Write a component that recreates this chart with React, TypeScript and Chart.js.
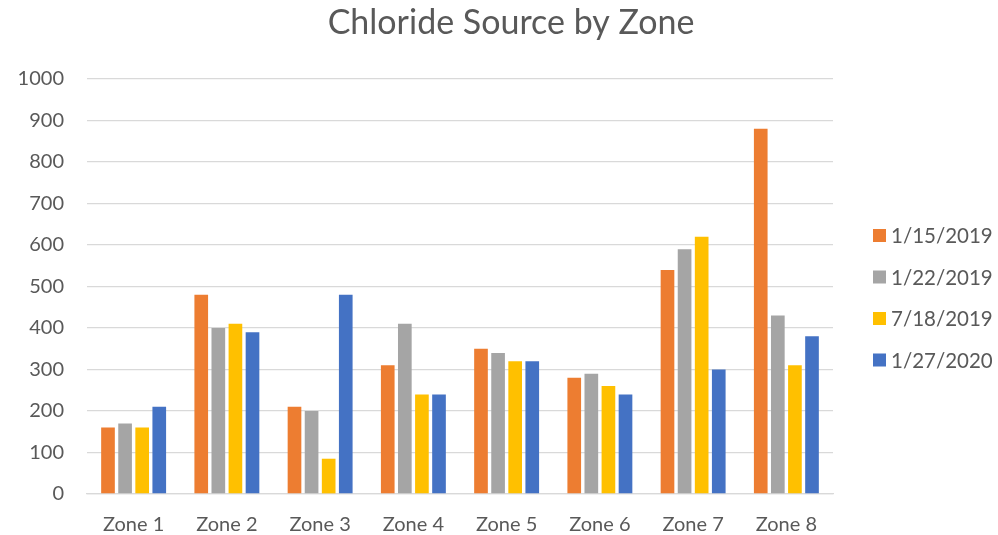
import React, { useEffect, useRef } from "react";
import { Chart, registerables } from "chart.js";

Chart.register(...registerables);

const titleText = "Chloride Source by Zone";
const categories = ["Zone 1", "Zone 2", "Zone 3", "Zone 4", "Zone 5", "Zone 6", "Zone 7", "Zone 8"];
const seriesLabels = ["1/15/2019", "1/22/2019", "7/18/2019", "1/27/2020"];
const seriesColors = ["#ED7D31", "#A5A5A5", "#FFC000", "#4472C4"];
const jan2019a = [160, 480, 210, 310, 350, 280, 540, 880];
const jan2019b = [170, 400, 200, 410, 340, 290, 590, 430];
const jul2019 = [160, 410, 85, 240, 320, 260, 620, 310];
const jan2020 = [210, 390, 480, 240, 320, 240, 300, 380];
const seriesValues = [jan2019a, jan2019b, jul2019, jan2020];
const yTicks = [0, 100, 200, 300, 400, 500, 600, 700, 800, 900, 1000];

const FONT = "Lato, 'Open Sans', sans-serif";
const TEXT = "#595959";

const overlayPlugin = {
  id: "overlay",
  afterDraw(chart: any) {
    const ctx = chart.ctx;
    ctx.save();
    ctx.fillStyle = TEXT;
    ctx.font = `34px ${FONT}`;
    ctx.textAlign = "center";
    ctx.textBaseline = "middle";
    ctx.fillText(titleText, 511, 23);
    ctx.font = `20.5px ${FONT}`;
    ctx.textAlign = "left";
    chart.data.datasets.forEach((ds: any, i: number) => {
      const y = 235.5 + i * 41.5;
      ctx.fillStyle = ds.backgroundColor;
      ctx.fillRect(873, y - 6.5, 13, 13);
      ctx.fillStyle = TEXT;
      ctx.fillText(ds.label, 891, y + 1);
    });
    ctx.restore();
  },
};

export default function App() {
  const ref = useRef<HTMLCanvasElement>(null);
  useEffect(() => {
    document.body.style.margin = "0";
    const chart = new Chart(ref.current!, {
      type: "bar",
      data: {
        labels: categories,
        datasets: seriesLabels.map((label, i) => ({
          label,
          data: seriesValues[i],
          backgroundColor: seriesColors[i],
          borderWidth: 0,
          categoryPercentage: 0.733,
          barPercentage: 0.8,
        })),
      },
      options: {
        responsive: false,
        animation: false,
        layout: { padding: { top: 79, right: 165, left: 0, bottom: 0 } },
        plugins: {
          legend: { display: false },
          title: { display: false },
          tooltip: { enabled: false },
        },
        scales: {
          x: {
            grid: { display: false },
            border: { display: true, color: "#d9d9d9", width: 1.3 },
            ticks: { color: TEXT, font: { family: FONT, size: 20 }, padding: 11 },
            afterFit: (s: any) => {
              s.height = 41;
            },
          },
          y: {
            min: 0,
            max: 1000,
            afterBuildTicks: (s: any) => {
              s.ticks = yTicks.map((v) => ({ value: v }));
            },
            grid: { color: "#d9d9d9", lineWidth: 1.3, drawTicks: false },
            border: { display: false },
            ticks: {
              color: TEXT,
              font: { family: FONT, size: 20 },
              padding: 23,
              callback: (v: any) => String(v),
            },
            afterFit: (s: any) => {
              s.width = 87;
            },
          },
        },
      },
      plugins: [overlayPlugin],
    });
    return () => chart.destroy();
  }, []);
  return (
    <div style={{ width: 998, height: 535 }}>
      <canvas ref={ref} width={998} height={535} />
    </div>
  );
}
